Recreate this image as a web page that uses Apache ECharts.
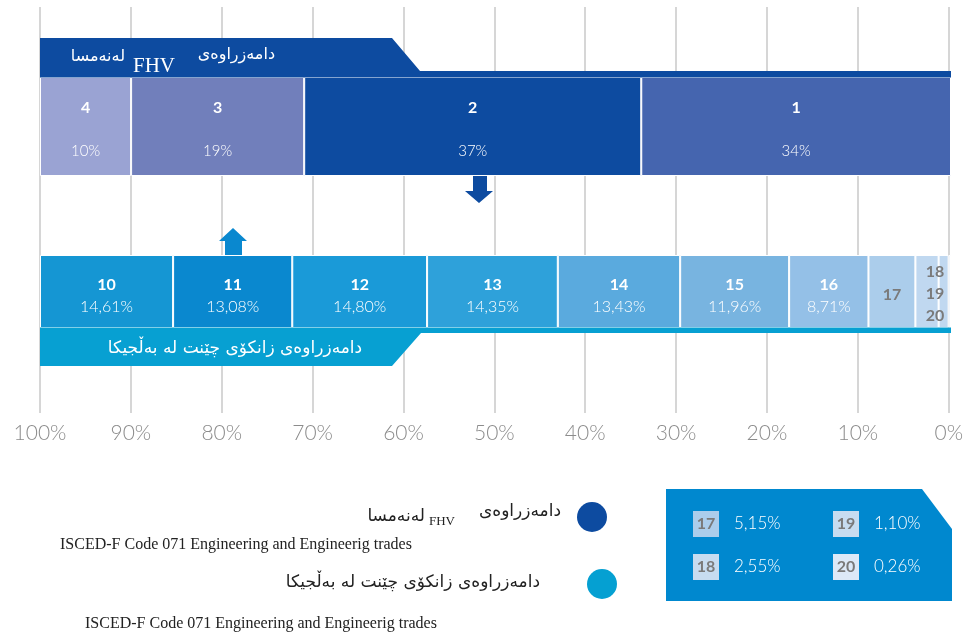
<!DOCTYPE html>
<html lang="ckb">
<head>
<meta charset="UTF-8">
<title>FHV / Ghent</title>
<style>
  html, body { margin: 0; padding: 0; background: #fff; }
  #main { width: 966px; height: 634px; }
</style>
</head>
<body>
<div id="main"></div>
<script src="https://cdn.jsdelivr.net/npm/echarts@6/dist/echarts.min.js"></script>
<script>
// top bar (FHV, Austria)
var topNames = ['1', '2', '3', '4'];
var topValues = [34, 37, 19, 10];
// bottom bar (Ghent, Belgium)
var bottomNames = ['10', '11', '12', '13', '14', '15', '16', '17', '18', '19', '20'];
var bottomValues = [14.61, 13.08, 14.80, 14.35, 13.43, 11.96, 8.71, 5.15, 2.55, 1.10, 0.26];
// small ones listed in the box
var boxNames = ['17', '18', '19', '20'];
var boxValues = [5.15, 2.55, 1.10, 0.26];
var axisMin = 0, axisMax = 100, axisStep = 10;

var topColors = ['#4565af', '#0d4ba0', '#717fbb', '#9aa3d3'];
var bottomColors = ['#1596d3', '#0a88cf', '#1a9ad8', '#2ea1da', '#5aaade', '#78b4e0',
                    '#94c0e7', '#abcdeb', '#c0d8f0', '#c0d8f0', '#dde9f7'];
var boxColors = ['#abcdeb', '#c7dcf0', '#c7dcf0', '#dde9f7'];

var kurd = 'DejaVu Sans';
var latin = 'Lato';

function fmt(v) { return v.toFixed(2).replace('.', ','); }

var series = [];
// axis is inverted, stack starts at 0% (right): segment 1 goes first
for (var i = 0; i < topNames.length; i++) {
  series.push({
    type: 'bar', name: topNames[i], stack: 'top',
    xAxisIndex: 1, yAxisIndex: 1, barWidth: '100%',
    data: [topValues[i]],
    itemStyle: { color: topColors[i], borderColor: '#fff', borderWidth: 1 },
    label: {
      show: true, position: 'inside', offset: [0, 3],
      formatter: '{n|' + topNames[i] + '}\n{p|' + topValues[i] + '%}',
      rich: {
        n: { color: '#fff', fontSize: 16, fontWeight: 'bold', fontFamily: latin, lineHeight: 43 },
        p: { color: '#fff', fontSize: 15, fontWeight: 300, fontFamily: latin, lineHeight: 43 }
      }
    }
  });
}
// bottom bar: 20 sits at 0%, so push from the end
for (var j = bottomNames.length - 1; j >= 0; j--) {
  var nm = bottomNames[j];
  var lab;
  if (j < 7) {
    lab = {
      show: true, position: 'inside', offset: [0, 4],
      formatter: '{n|' + nm + '}\n{p|' + fmt(bottomValues[j]) + '%}',
      rich: {
        n: { color: '#fff', fontSize: 16, fontWeight: 'bold', fontFamily: latin, lineHeight: 22 },
        p: { color: '#fff', fontSize: 16, fontWeight: 300, fontFamily: latin, lineHeight: 22 }
      }
    };
  } else if (nm === '17') {
    lab = {
      show: true, position: 'inside', offset: [0, 3],
      formatter: nm, color: '#7a7a7a', fontSize: 16, fontWeight: 'bold', fontFamily: latin
    };
  } else if (nm === '18') {
    lab = {
      show: true, position: 'inside', offset: [8, 2],
      formatter: '18\n19\n20', color: '#7a7a7a', fontSize: 16, fontWeight: 'bold',
      fontFamily: latin, lineHeight: 22
    };
  } else {
    lab = { show: false };
  }
  series.push({
    type: 'bar', name: nm, stack: 'bottom',
    xAxisIndex: 2, yAxisIndex: 2, barWidth: '100%',
    data: [bottomValues[j]],
    itemStyle: { color: bottomColors[j], borderColor: '#fff', borderWidth: 1 },
    label: lab
  });
}

function hiddenX(idx) {
  return { type: 'value', gridIndex: idx, inverse: true, min: axisMin, max: axisMax, show: false };
}

// legend box with the small values
var boxItems = [];
var boxPos = [[693, 511], [693, 554], [833, 511], [833, 554]];
boxNames.forEach(function (n, k) {
  var p = boxPos[k];
  boxItems.push({ type: 'rect', shape: { x: p[0], y: p[1], width: 26, height: 26 },
    style: { fill: boxColors[k] }, z: 21 });
  boxItems.push({ type: 'text', x: p[0] + 13, y: p[1] + 13, z: 22,
    style: { text: n, fill: '#7a7a7a', font: 'bold 16px ' + latin, align: 'center', verticalAlign: 'middle' } });
  boxItems.push({ type: 'text', x: p[0] + 41, y: p[1] + 13, z: 22,
    style: { text: fmt(boxValues[k]) + '%', fill: '#fff', font: '300 17px ' + latin, align: 'left', verticalAlign: 'middle' } });
});

var graphics = [
  // header band for FHV
  { type: 'polygon', z: 10,
    shape: { points: [[40, 38], [392, 38], [420, 71], [951, 71], [951, 77.5], [40, 77.5]] },
    style: { fill: '#0d4ba0' } },
  { type: 'text', x: 125, y: 57, z: 11,
    style: { text: 'لەنەمسا', fill: '#fff', font: '16px ' + kurd, align: 'right', verticalAlign: 'middle' } },
  { type: 'text', x: 133, y: 66, z: 11,
    style: { text: 'FHV', fill: '#fff', font: '21px "Liberation Serif"', align: 'left', verticalAlign: 'middle' } },
  { type: 'text', x: 275, y: 55, z: 11,
    style: { text: 'دامەزراوەی', fill: '#fff', font: '16px ' + kurd, align: 'right', verticalAlign: 'middle' } },
  // arrows
  { type: 'polygon', z: 10,
    shape: { points: [[473, 176], [487, 176], [487, 191], [493, 191], [479, 203], [465, 191], [473, 191]] },
    style: { fill: '#0d4ba0' } },
  { type: 'polygon', z: 10,
    shape: { points: [[225, 255], [242, 255], [242, 241], [247, 241], [233, 228], [219, 241], [225, 241]] },
    style: { fill: '#0a88cf' } },
  // footer band for Ghent
  { type: 'polygon', z: 10,
    shape: { points: [[40, 327.5], [951, 327.5], [951, 333], [421, 333], [392, 366], [40, 366]] },
    style: { fill: '#07a0d2' } },
  { type: 'text', x: 235, y: 349, z: 11,
    style: { text: 'دامەزراوەی زانکۆی چێنت لە بەڵجیکا', fill: '#fff', font: '17px ' + kurd, align: 'center', verticalAlign: 'middle' } },
  // legend
  { type: 'circle', shape: { cx: 592, cy: 517, r: 15 }, style: { fill: '#0d4ba0' } },
  { type: 'text', x: 561, y: 512,
    style: { text: 'دامەزراوەی', fill: '#222', font: '17px ' + kurd, align: 'right', verticalAlign: 'middle' } },
  { type: 'text', x: 425, y: 517,
    style: { text: 'لەنەمسا', fill: '#222', font: '17px ' + kurd, align: 'right', verticalAlign: 'middle' } },
  { type: 'text', x: 429, y: 522,
    style: { text: 'FHV', fill: '#222', font: '13px "Liberation Serif"', align: 'left', verticalAlign: 'middle' } },
  { type: 'text', x: 60, y: 545,
    style: { text: 'ISCED-F Code 071 Engineering and Engineerig trades', fill: '#222', font: '16px "Liberation Serif"', align: 'left', verticalAlign: 'middle' } },
  { type: 'circle', shape: { cx: 602, cy: 584, r: 15 }, style: { fill: '#05a0d2' } },
  { type: 'text', x: 540, y: 583,
    style: { text: 'دامەزراوەی زانکۆی چێنت لە بەڵجیکا', fill: '#222', font: '17px ' + kurd, align: 'right', verticalAlign: 'middle' } },
  { type: 'text', x: 85, y: 624,
    style: { text: 'ISCED-F Code 071 Engineering and Engineerig trades', fill: '#222', font: '16px "Liberation Serif"', align: 'left', verticalAlign: 'middle' } },
  // box
  { type: 'polygon', z: 20,
    shape: { points: [[666, 489], [922, 489], [952, 529], [952, 601], [666, 601]] },
    style: { fill: '#0088cf' } }
].concat(boxItems);

var chart = echarts.init(document.getElementById('main'));
chart.setOption({
  backgroundColor: '#fff',
  animation: false,
  grid: [
    { left: 40, right: 15, top: 7, bottom: 221 },
    { left: 40, right: 15, top: 77, height: 99 },
    { left: 40, right: 15, top: 255, height: 73 }
  ],
  xAxis: [
    {
      type: 'value', gridIndex: 0, inverse: true,
      min: axisMin, max: axisMax, interval: axisStep,
      axisLine: { show: false }, axisTick: { show: false },
      axisLabel: { formatter: '{value}%', color: '#8c8c8c', fontSize: 21, fontWeight: 300,
                   fontFamily: latin, margin: 10 },
      splitLine: { lineStyle: { color: '#d6d6d6', width: 2 } }
    },
    hiddenX(1),
    hiddenX(2)
  ],
  yAxis: [
    { type: 'value', gridIndex: 0, show: false, min: 0, max: 1 },
    { type: 'category', gridIndex: 1, data: ['FHV'], show: false },
    { type: 'category', gridIndex: 2, data: ['Ghent'], show: false }
  ],
  series: series,
  graphic: graphics
});
</script>
</body>
</html>
